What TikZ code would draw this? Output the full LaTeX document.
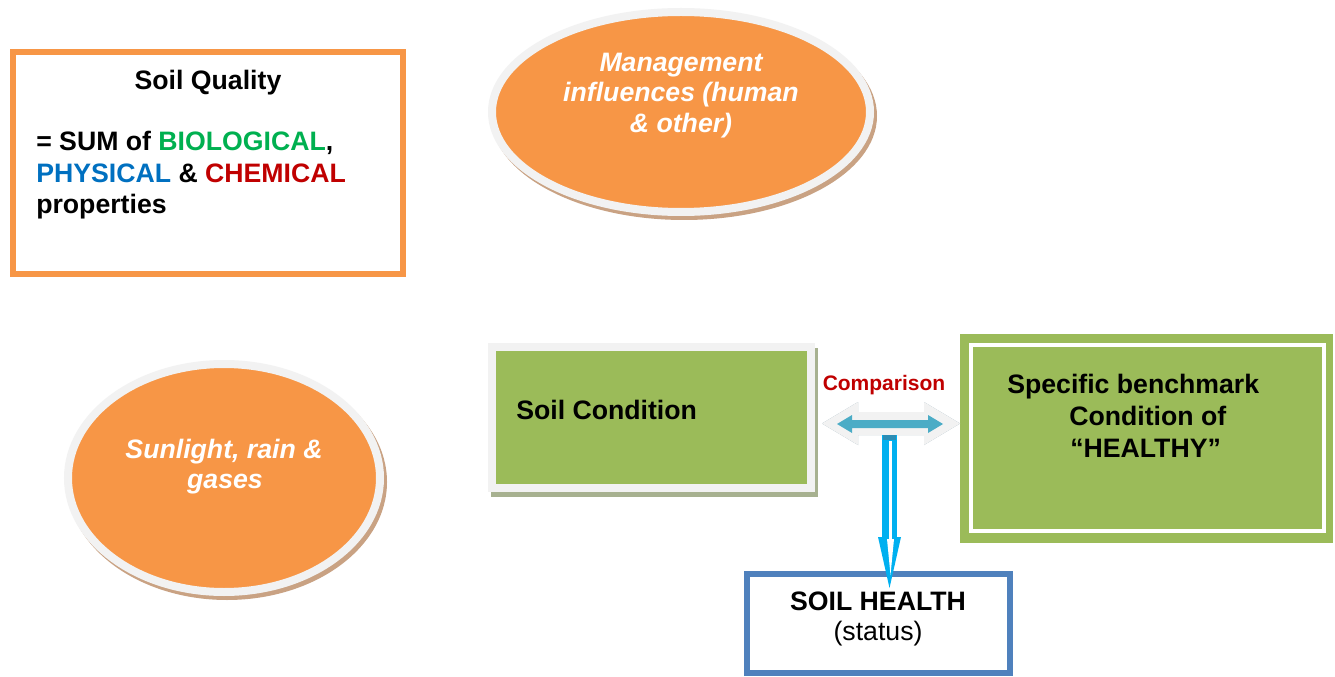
\documentclass[tikz,border=0pt]{standalone}
\usepackage{fontspec}
\setmainfont{Liberation Sans}
\usetikzlibrary{shapes.geometric,arrows.meta}
\definecolor{orng}{HTML}{F79646}
\definecolor{lgray}{HTML}{F2F2F2}
\definecolor{ellshadow}{HTML}{C9A283}
\definecolor{olivegr}{HTML}{9BBB59}
\definecolor{boxshadow}{HTML}{A7B190}
\definecolor{bio}{HTML}{00B050}
\definecolor{phys}{HTML}{0070C0}
\definecolor{chem}{HTML}{C00000}
\definecolor{hblue}{HTML}{4F81BD}
\definecolor{tealb}{HTML}{4BACC6}
\definecolor{cyanb}{HTML}{00B0F0}
\definecolor{arrshadow}{HTML}{8FA9B6}
\definecolor{darkpatch}{HTML}{2C8DB5}
\begin{document}
\begin{tikzpicture}[x=0.75pt,y=-0.75pt,
  txt/.style={font=\fontsize{20pt}{24pt}\selectfont\bfseries, inner sep=0pt},
  wtxt/.style={font=\fontsize{20pt}{24pt}\selectfont\bfseries\itshape, text=white, inner sep=0pt},
  oval/.style={ellipse, draw=lgray, line width=6pt, fill=orng, inner sep=0pt},
  ovalshadow/.style={ellipse, fill=ellshadow, inner sep=0pt}
]
\useasboundingbox (0,0) rectangle (1335,677);
\fill[white] (0,0) rectangle (1335,677);

% Soil Quality box
\node[draw=orng, line width=4.5pt, minimum width=292.5pt, minimum height=166.5pt, inner sep=0pt] (sqbox) at (208,163) {};
\node[txt, anchor=base] (sqt) at (208,90) {Soil Quality};
\node[txt, anchor=base west] (sq1) at (36,151) {= SUM of \textcolor{bio}{BIOLOGICAL},};
\node[txt, anchor=base west] (sq2) at (36,183) {\textcolor{phys}{PHYSICAL} \& \textcolor{chem}{CHEMICAL}};
\node[txt, anchor=base west] (sq3) at (36,214) {properties};

% Management ellipse
\node[ovalshadow, minimum width=289.5pt, minimum height=156pt] (mgs) at (684,116) {};
\node[oval, minimum width=283.5pt, minimum height=150pt] (mg) at (681,112) {};
\node[wtxt, anchor=base] (mg1) at (681,72) {Management};
\node[wtxt, anchor=base] (mg2) at (681,102) {influences (human};
\node[wtxt, anchor=base] (mg3) at (681,133) {\& other)};

% Sunlight ellipse
\node[ovalshadow, minimum width=240pt, minimum height=177pt] (sus) at (227,482) {};
\node[oval, minimum width=234pt, minimum height=171pt] (su) at (224,478) {};
\node[wtxt, anchor=base] (su1) at (224,458) {Sunlight, rain \&};
\node[wtxt, anchor=base] (su2) at (225,488) {gases};

% Soil Condition box
\fill[boxshadow] (491,348) rectangle (818,497);
\node[draw=lgray, line width=6pt, fill=olivegr, minimum width=239.25pt, minimum height=105.75pt, inner sep=0pt] (sc) at (651.5,417.5) {};
\node[txt, anchor=base west] (sct) at (516,419) {Soil Condition};

% Benchmark box
\node[fill=olivegr, minimum width=279.75pt, minimum height=156.75pt, inner sep=0pt] (bm) at (1146.5,438.5) {};
\node[draw=white, line width=3pt, minimum width=264.75pt, minimum height=139.5pt, inner sep=0pt] (bmin) at (1147.5,438) {};
\node[txt, anchor=base west] (bm1) at (1007,393) {Specific benchmark};
\node[txt, anchor=base west] (bm2) at (1069,425) {Condition of};
\node[txt, anchor=base west] (bm3) at (1070,457) {“HEALTHY”};

% Comparison label
\node[font=\fontsize{15.75pt}{18pt}\selectfont\bfseries, text=chem, inner sep=0pt, anchor=base] (cmp) at (884,390) {Comparison};

% Double arrow (comparison)
\coordinate (dl) at (822,423.5);
\def\dblarrow{(dl) -- ++(36,-21.5) -- ++(0,10) -- ++(66,0) -- ++(0,-10) -- ++(36,21.5) -- ++(-36,21.5) -- ++(0,-10) -- ++(-66,0) -- ++(0,10) -- cycle}
\fill[arrshadow, shift={(2,4)}] \dblarrow;
\fill[lgray] \dblarrow;
\coordinate (bl) at (837,424);
\fill[tealb] (bl) -- ++(15,-9) -- ++(0,5) -- ++(76,0) -- ++(0,-5) -- ++(15,9) -- ++(-15,9) -- ++(0,-5) -- ++(-76,0) -- ++(0,5) -- cycle;

% Soil Health box
\node[draw=hblue, line width=4.5pt, fill=white, minimum width=197.25pt, minimum height=74.25pt, inner sep=0pt] (health) at (878.5,623.5) {};
\node[txt, anchor=base] (h1) at (878,610) {SOIL HEALTH};
\node[font=\fontsize{20pt}{24pt}\selectfont, inner sep=0pt, anchor=base] (h2) at (878,640) {(status)};

% Vertical arrow from comparison to soil health
\coordinate (vs) at (889.5,435);
\coordinate (vb) at (889.5,537);
\coordinate (vt) at (889.5,588);
\draw[cyanb, line width=11.25pt] (vs) -- (vb);
\fill[cyanb] (vb) ++(-11.5,0) -- ++(23,0) -- (vt) -- cycle;
\fill[darkpatch] (883,435) rectangle (896,440);
\draw[white, line width=1.9pt] (890.5,441) -- (890.5,539);
\fill[white] (887,539) -- (894,539) -- (890.5,575) -- cycle;
\end{tikzpicture}
\end{document}
